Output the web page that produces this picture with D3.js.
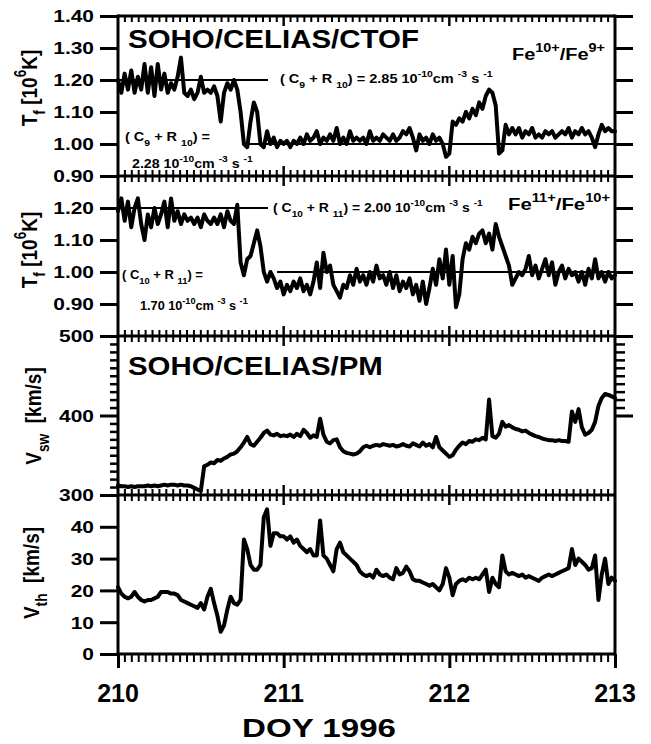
<!DOCTYPE html>
<html>
<head>
<meta charset="utf-8">
<script src="https://cdn.jsdelivr.net/npm/d3@7"></script>
<style>
  body { margin: 0; background: #fff; }
  text { font-family: "Liberation Sans", Arial, sans-serif; font-weight: bold; fill: #000; white-space: pre; }
</style>
</head>
<body>
<svg id="chart" width="651" height="744"></svg>
<script>
// Sampling of all series: start day and cadence (days)
const T0 = 210, DT = 0.02;

// Freezing-in temperature from Fe10+/Fe9+ [10^6 K]
const fe10Fe9 = [
  1.20,1.16,1.22,1.17,1.23,1.16,1.21,1.17,1.25,1.16,
  1.24,1.15,1.25,1.17,1.22,1.16,1.19,1.17,1.21,1.27,
  1.16,1.15,1.17,1.14,1.16,1.21,1.16,1.17,1.16,1.18,
  1.15,1.07,1.16,1.19,1.17,1.20,1.17,1.10,1.00,0.99,
  1.07,1.13,1.10,1.00,0.99,1.04,1.00,1.02,0.99,1.01,
  1.00,1.01,0.99,1.01,1.00,1.02,1.00,1.03,1.01,1.02,
  1.04,1.00,1.02,1.01,1.03,1.01,1.05,1.00,1.02,1.00,
  1.04,1.01,1.02,1.01,1.02,1.00,1.04,1.01,1.02,1.01,
  1.03,1.02,1.01,1.03,1.01,1.02,1.04,1.03,1.05,1.02,
  0.98,1.03,1.01,1.02,1.00,1.03,1.01,1.02,1.00,0.96,
  0.97,1.07,1.06,1.08,1.07,1.10,1.08,1.11,1.09,1.13,
  1.11,1.15,1.17,1.16,1.12,0.97,0.98,1.06,1.03,1.05,
  1.03,1.05,1.02,1.04,1.03,1.05,1.02,1.03,1.02,1.04,
  1.03,1.04,1.02,1.03,1.04,1.03,1.05,1.02,1.04,1.03,
  1.05,1.03,1.04,1.02,0.99,1.03,1.06,1.04,1.05,1.04,
  1.04
];

// Freezing-in temperature from Fe11+/Fe10+ [10^6 K]
const fe11Fe10 = [
  1.19,1.23,1.16,1.22,1.14,1.20,1.23,1.15,1.10,1.18,
  1.14,1.20,1.15,1.18,1.22,1.14,1.23,1.16,1.19,1.15,
  1.18,1.16,1.17,1.15,1.17,1.14,1.18,1.16,1.15,1.17,
  1.15,1.18,1.14,1.19,1.16,1.15,1.21,1.03,0.99,1.04,
  1.05,1.09,1.13,1.08,1.00,0.97,1.00,0.98,0.95,0.97,
  0.93,0.96,0.94,0.97,0.95,0.98,0.94,0.96,0.93,0.97,
  1.03,0.95,1.06,1.00,1.02,0.96,0.94,0.92,0.96,0.95,
  0.99,0.96,1.01,0.97,0.99,0.96,1.00,0.97,1.02,0.98,
  0.99,0.96,1.00,0.95,0.99,0.94,0.97,0.95,0.98,0.93,
  0.96,0.91,0.97,0.90,0.95,1.01,0.96,1.04,0.98,1.07,
  0.96,1.05,0.89,0.93,1.04,1.09,1.07,1.11,1.09,1.12,
  1.13,1.09,1.12,1.07,1.15,1.11,1.08,1.05,1.02,0.96,
  0.98,1.00,0.99,1.01,1.05,0.99,1.02,0.98,1.01,1.04,
  0.99,1.03,0.96,1.00,1.02,0.98,1.01,0.99,1.00,0.97,
  1.00,0.96,1.01,0.98,1.04,0.98,1.00,0.97,1.00,0.98,
  0.99
];

// Solar wind speed [km/s]
const vsw = [
  312,311,311,310,311,310,311,311,311,312,
  311,312,311,312,313,312,313,313,312,313,
  312,312,311,309,307,305,336,338,341,340,
  344,343,346,348,351,352,355,360,366,373,
  364,362,367,372,378,381,376,375,377,374,
  375,374,376,373,377,374,382,378,372,375,
  373,396,376,367,365,369,370,360,355,353,
  352,351,352,355,360,362,360,362,363,362,
  364,363,362,363,361,362,364,362,361,365,
  363,361,366,362,364,360,373,360,356,352,
  348,350,357,362,366,364,368,367,370,369,
  372,370,420,374,372,377,392,386,388,385,
  383,382,380,381,378,376,374,373,371,370,
  369,369,368,369,368,368,367,405,392,408,
  385,376,378,382,392,412,422,427,426,424,
  422
];

// Proton thermal speed [km/s]
const vth = [
  21,19,18,17.5,18,19.5,18,17,16.5,17,
  17,17.5,18,19.5,19.5,19.5,19,19,18.5,17,
  16.5,16,15.5,15,14.5,16,14,18,20.5,16,
  12,7,9,14,18,16,15.5,17,36,33,
  28,26.5,26.5,28,43,45.5,34,38,38,37,
  37,36,37,35,36,34,33,32,33,31,
  31,42,31,30,28,26,33,35,32,31,
  30,29,28,26,25,24.5,25,24,26.5,25,
  24.5,25,24,23.5,27,25,25.5,27.5,26,23.5,
  23,23,22.5,22,21.5,22,21,20,22,27,
  24,18.5,22,23,23.5,23,24,23.5,24,23.5,
  25,26.5,19.5,24,22,21,31,26,25,25.5,
  25,24.5,25,24,24.5,24,23.5,23,24,24.5,
  25,24.5,25,25.5,26,26.5,27,33,28,30,
  29,28,26.5,27,31,17,25,30,22,24,
  23
];

// Model temperature levels: [start day, end day, value]
const modelFe10 = [[210.0, 210.905, 1.20], [210.76, 213.0, 1.00]];
const modelFe11 = [[210.0, 210.905, 1.20], [210.96, 213.0, 1.00]];

// Axis tick labels
const dayTicks = [210, 211, 212, 213];
const tickFe10 = [0.90, 1.00, 1.10, 1.20, 1.30, 1.40];
const tickFe11 = [0.90, 1.00, 1.10, 1.20];
const tickVsw = [300, 400, 500];
const tickVth = [0, 10, 20, 30, 40];

const svg = d3.select("#chart");
const X0 = 118, X1 = 615;
const x = d3.scaleLinear().domain([210, 213]).range([X0, X1]);
// hourly marks between the day boundaries
const hourMarks = [];
for (let h = 1; h < 72; h++) { if (h % 24 !== 0) hourMarks.push(210 + h / 24); }
const majorInner = [211, 212];

const panels = [
  { top: 16,  bottom: 176, domain: [0.90, 1.40], data: fe10Fe9, labels: tickFe10, fmt: d3.format(".2f"),
    right: [0.90, 1.00, 1.10, 1.20, 1.30, 1.40], model: modelFe10 },
  { top: 176, bottom: 336, domain: [0.80, 1.30], data: fe11Fe10, labels: tickFe11, fmt: d3.format(".2f"),
    right: [0.90, 1.00, 1.10, 1.20], model: modelFe11 },
  { top: 336, bottom: 495, domain: [300, 500], data: vsw, labels: tickVsw, fmt: d3.format("d"),
    right: [400, 500], minorLeft: d3.range(310, 500, 10).filter(v => v !== 400),
    minorRight: d3.range(410, 500, 10) },
  { top: 495, bottom: 654, domain: [0, 50], data: vth, labels: tickVth, fmt: d3.format("d"),
    right: [] }
];

panels.forEach(p => {
  p.y = d3.scaleLinear().domain(p.domain).range([p.bottom, p.top]);
});

function cleanAxis(g, width) {
  g.select(".domain").remove();
  g.selectAll(".tick line").attr("stroke", "#000").attr("stroke-width", width);
}

// short vertical time ticks along a horizontal edge
// (dir: +1 hangs down, -1 points up)
const tickLayer = svg.append("g").attr("class", "time-ticks");
function timeTicks(values, y0, len, dir, width) {
  tickLayer.append("g").selectAll("rect").data(values).join("rect")
    .attr("x", v => x(v) - width / 2)
    .attr("width", width)
    .attr("y", dir > 0 ? y0 : y0 - len)
    .attr("height", len)
    .attr("fill", "#000");
}

// data traces and model levels
panels.forEach(p => {
  const line = d3.line()
    .x((d, i) => x(T0 + i * DT))
    .y(d => p.y(d));
  svg.append("path")
    .datum(p.data)
    .attr("d", line)
    .attr("fill", "none")
    .attr("stroke", "#000")
    .attr("stroke-width", 4)
    .attr("stroke-linejoin", "round")
    .attr("stroke-linecap", "round");
  if (p.model) {
    svg.append("g").selectAll("line").data(p.model).join("line")
      .attr("x1", d => x(d[0])).attr("x2", d => x(d[1]))
      .attr("y1", d => p.y(d[2])).attr("y2", d => p.y(d[2]))
      .attr("stroke", "#000").attr("stroke-width", 2.2);
  }
});

// axes for each panel
panels.forEach((p, k) => {
  const gl = svg.append("g").attr("transform", `translate(${X0},0)`)
    .call(d3.axisLeft(p.y).tickValues(p.labels).tickSize(18).tickPadding(6).tickFormat(p.fmt));
  cleanAxis(gl, 3);
  gl.selectAll(".tick text")
    .attr("x", 0).attr("dy", "0.36em")
    .attr("font-size", 16.5)
    .attr("transform", "translate(-24,0) scale(1.27,1)");
  if (p.minorLeft) {
    const gm = svg.append("g").attr("transform", `translate(${X0},0)`)
      .call(d3.axisLeft(p.y).tickValues(p.minorLeft).tickSize(8).tickFormat(""));
    cleanAxis(gm, 2.5);
  }
  if (p.right.length) {
    const gr = svg.append("g").attr("transform", `translate(${X1},0)`)
      .call(d3.axisRight(p.y).tickValues(p.right).tickSize(18).tickFormat(""));
    cleanAxis(gr, 3);
  }
  if (p.minorRight) {
    const gm = svg.append("g").attr("transform", `translate(${X1},0)`)
      .call(d3.axisRight(p.y).tickValues(p.minorRight).tickSize(10).tickFormat(""));
    cleanAxis(gm, 2.5);
  }
  // inner hourly ticks on the edges, day ticks longer
  timeTicks(hourMarks, p.top, 6, 1, 2);
  timeTicks(majorInner, p.top, 10, 1, 2.4);
  if (k < panels.length - 1) {
    timeTicks(hourMarks, p.bottom, 6, -1, 2);
    timeTicks(majorInner, p.bottom, 10, -1, 2.4);
  }
});

// bottom time axis
const last = panels[panels.length - 1];
timeTicks(hourMarks, last.bottom, 8, 1, 2);
const gxm = svg.append("g").attr("transform", `translate(0,${last.bottom})`)
  .call(d3.axisBottom(x).tickValues(dayTicks).tickSize(14).tickFormat(""));
cleanAxis(gxm, 3);
svg.append("g").selectAll("text").data(dayTicks).join("text")
  .attr("x", d => x(d)).attr("y", 702)
  .attr("text-anchor", "middle")
  .attr("font-size", 25)
  .text(d => d);

// frame
const frame = svg.append("g").attr("stroke", "#000").attr("stroke-width", 3);
panels.forEach(p => {
  frame.append("line").attr("x1", X0).attr("x2", X1).attr("y1", p.top).attr("y2", p.top);
});
frame.append("line").attr("x1", X0).attr("x2", X1).attr("y1", last.bottom).attr("y2", last.bottom);
frame.append("line").attr("x1", X0).attr("x2", X0).attr("y1", panels[0].top - 1.5).attr("y2", last.bottom + 1.5);
frame.append("line").attr("x1", X1).attr("x2", X1).attr("y1", panels[0].top - 1.5).attr("y2", last.bottom + 1.5);

// rich text with sub/superscripts
function rich(segs, size) {
  const t = svg.append("text").attr("font-size", size);
  let off = 0;
  segs.forEach(s => {
    const target = s.sub ? size * 0.38 : s.sup ? -size * 0.5 : 0;
    const ts = t.append("tspan").text(s.t).attr("dy", target - off);
    if (s.sub || s.sup) ts.attr("font-size", size * 0.72);
    off = target;
  });
  return t;
}
// place a horizontal text with its left edge at x, baseline at y, stretched to a width
function fit(t, xl, yb, width) {
  const bb = t.node().getBBox();
  const s = width / bb.width;
  t.attr("transform", `translate(${xl - bb.x * s},${yb}) scale(${s},1)`);
  return t;
}
const N = t => ({ t });
const SUB = t => ({ t, sub: true });
const SUP = t => ({ t, sup: true });

fit(rich([N("DOY 1996")], 25), 242, 737, 154);
fit(rich([N("SOHO/CELIAS/CTOF")], 25), 128, 48, 291);
fit(rich([N("SOHO/CELIAS/PM")], 25), 128, 375, 255);
fit(rich([N("Fe"), SUP("10+"), N("/Fe"), SUP("9+")], 17), 512, 60, 93);
fit(rich([N("Fe"), SUP("11+"), N("/Fe"), SUP("10+")], 17), 508, 210, 102);

const unit = [SUP("-10"), N("cm "), SUP("-3"), N(" s "), SUP("-1")];
fit(rich([N("( C"), SUB("9"), N(" + R "), SUB("10"), N(") = 2.85 10"), ...unit], 12), 280, 83, 213);
fit(rich([N("( C"), SUB("9"), N(" + R "), SUB("10"), N(") =")], 12), 125, 141, 85);
fit(rich([N("2.28 10"), ...unit], 12), 132, 168, 121);
fit(rich([N("( C"), SUB("10"), N(" + R "), SUB("11"), N(") = 2.00 10"), ...unit], 12), 273, 212, 210);
fit(rich([N("( C"), SUB("10"), N(" + R "), SUB("11"), N(") =")], 12), 122, 279, 81);
fit(rich([N("1.70 10"), ...unit], 12), 140, 310, 108);

// rotated axis titles
function ytitle(segs, cx, cy, size) {
  const t = rich(segs, size).attr("text-anchor", "middle");
  t.attr("transform", `translate(${cx},${cy}) rotate(-90) scale(1,1.15)`);
  return t;
}
ytitle([N("T"), SUB("f"), N(" [10"), SUP("6"), N("K]")], 37, 88, 19);
ytitle([N("T"), SUB("f"), N(" [10"), SUP("6"), N("K]")], 37, 250, 19);
ytitle([N("V"), SUB("sw"), N("  [km/s]")], 41, 416, 19);
ytitle([N("V"), SUB("th"), N("  [km/s]")], 39, 573, 19);
</script>
</body>
</html>
